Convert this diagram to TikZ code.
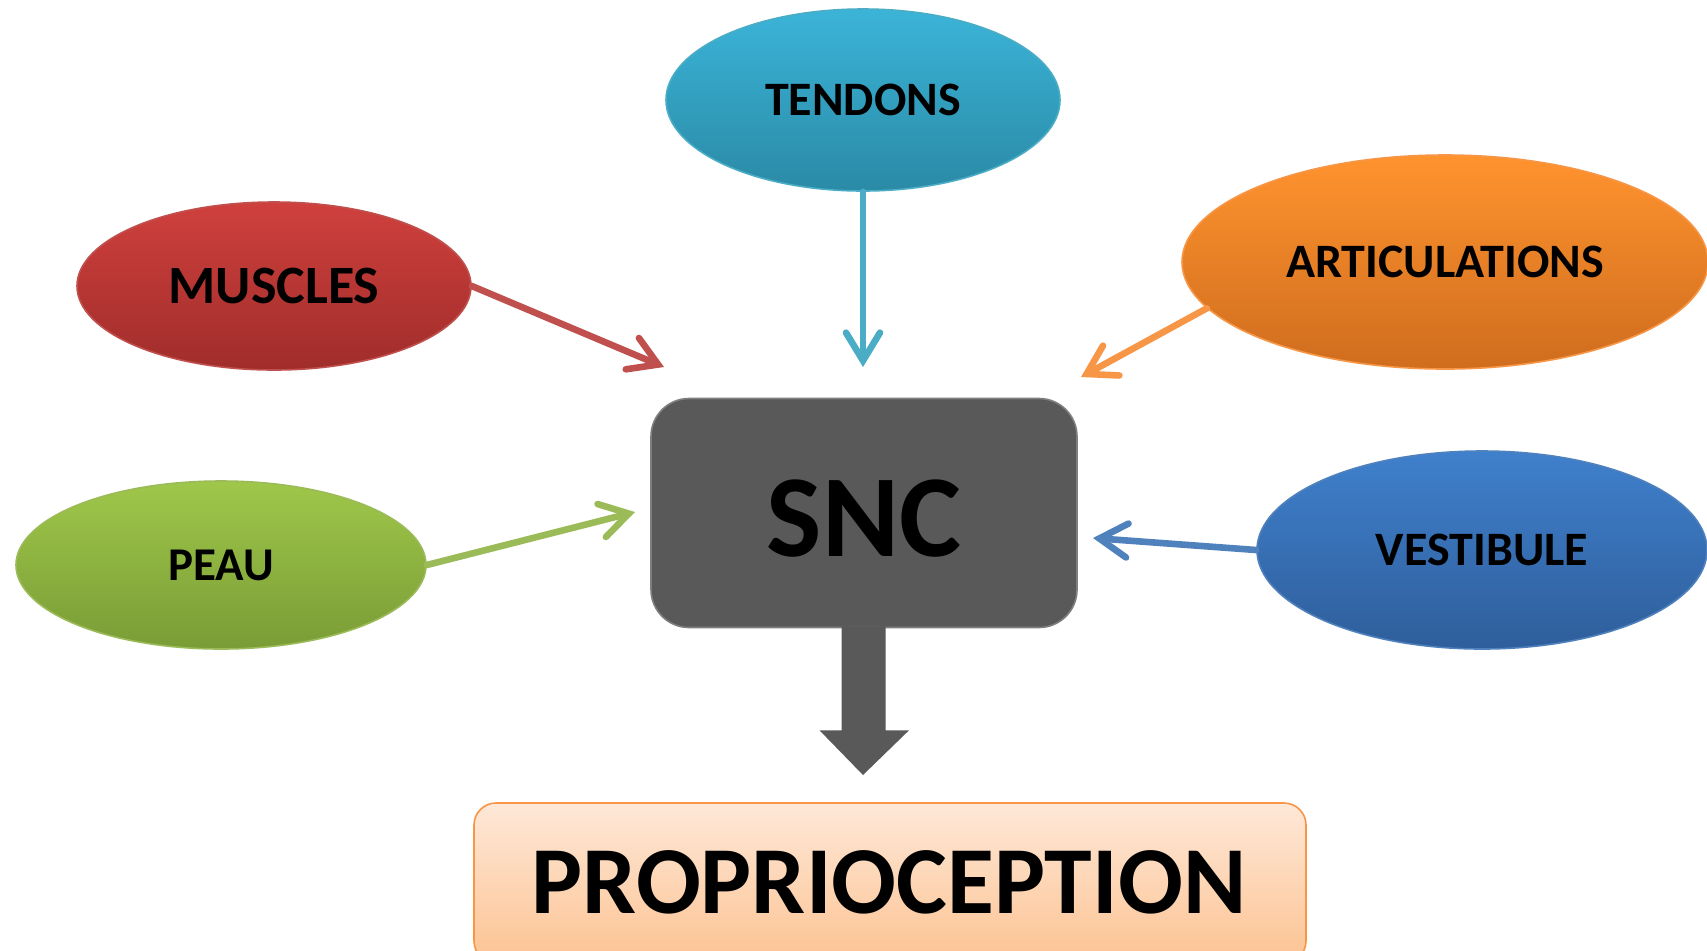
\documentclass[tikz,border=0pt]{standalone}
\usepackage{fontspec}
\setmainfont{Carlito}
\usetikzlibrary{arrows.meta,shapes.geometric,calc}
\definecolor{tenT}{HTML}{3BB4D8}
\definecolor{tenD}{HTML}{2A8AA6}
\definecolor{tenB}{HTML}{4BACC6}
\definecolor{musT}{HTML}{CF403D}
\definecolor{musD}{HTML}{A02D2B}
\definecolor{musB}{HTML}{C0504D}
\definecolor{artT}{HTML}{FF932E}
\definecolor{artD}{HTML}{CF6D1E}
\definecolor{artB}{HTML}{F79646}
\definecolor{peaT}{HTML}{9FC74A}
\definecolor{peaD}{HTML}{7A9C36}
\definecolor{peaB}{HTML}{9BBB59}
\definecolor{vesT}{HTML}{3F80CC}
\definecolor{vesD}{HTML}{2F5E9B}
\definecolor{vesB}{HTML}{4F81BD}
\definecolor{sncF}{HTML}{595959}
\definecolor{sncB}{HTML}{7F7F7F}
\definecolor{proT}{HTML}{FEE8D8}
\definecolor{proD}{HTML}{FCC392}
\begin{document}
\begin{tikzpicture}[x=0.5pt,y=-0.5pt,
  oval/.style={ellipse, inner sep=0pt, line width=0.8pt},
  conn/.style={line width=3.3pt, line cap=round,
    -{Straight Barb[length=14pt,width=17pt,line cap=round]}}]
\clip (0,0) rectangle (1707,950);
\fill[white] (0,0) rectangle (1707,950);
% ellipses
\node[oval, draw=tenB, top color=tenT, bottom color=tenD,
  minimum width=197pt, minimum height=91pt,
  font=\bfseries\fontsize{24}{29}\selectfont] (ten) at (863,100) {TENDONS};
\node[oval, draw=musB, top color=musT, bottom color=musD,
  minimum width=197pt, minimum height=84pt,
  font=\bfseries\fontsize{27}{32}\selectfont] (mus) at (274,286) {MUSCLES};
\node[oval, draw=artB, top color=artT, bottom color=artD,
  minimum width=263pt, minimum height=107pt,
  font=\bfseries\fontsize{24}{29}\selectfont] (art) at (1445,262) {ARTICULATIONS};
\node[oval, draw=peaB, top color=peaT, bottom color=peaD,
  minimum width=205pt, minimum height=84pt,
  font=\bfseries\fontsize{23.5}{28}\selectfont] (pea) at (221,565) {PEAU};
\node[oval, draw=vesB, top color=vesT, bottom color=vesD,
  minimum width=225pt, minimum height=99pt,
  font=\bfseries\fontsize{24}{29}\selectfont] (ves) at (1482,550) {VESTIBULE};
% central box
\node[rectangle, rounded corners=19pt, draw=sncB, fill=sncF, line width=0.8pt,
  minimum width=213pt, minimum height=114.5pt, inner sep=0pt] (snc) at (864,513) {};
\node[font=\bfseries\fontsize{58.5}{68}\selectfont, yshift=-2.7pt] (snct) at (snc.center) {SNC};
% big arrow
\coordinate (tip) at (863,775);
\fill[sncF] ($(snc.south)+(-22.5,-2)$) -- ++(0,104) -- ++(-22,0) -- (tip)
  -- ($(snc.south)+(45,102)$) -- ++(-23.5,0) -- ++(0,-104) -- cycle;
% result box
\node[rectangle, rounded corners=11pt, draw=artB, line width=0.8pt,
  top color=proT, bottom color=proD,
  minimum width=416pt, minimum height=80pt, inner sep=0pt] (pro) at (890,883) {};
\node[font=\bfseries\fontsize{48}{58}\selectfont] (prot) at (889,882) {PROPRIOCEPTION};
% connectors
\coordinate (mtip) at (664,367);
\coordinate (ttip) at (863,367);
\coordinate (atip) at (1081,377);
\coordinate (ptip) at (635,512);
\coordinate (vtip) at (1093,538);
\draw[conn, draw=musB] (mus.east) -- (mtip);
\draw[conn, draw=tenB] (ten.south) -- (ttip);
\draw[conn, draw=artB] (art.191) -- (atip);
\draw[conn, draw=peaB] (pea.east) -- (ptip);
\draw[conn, draw=vesB] (ves.west) -- (vtip);
\end{tikzpicture}
\end{document}
